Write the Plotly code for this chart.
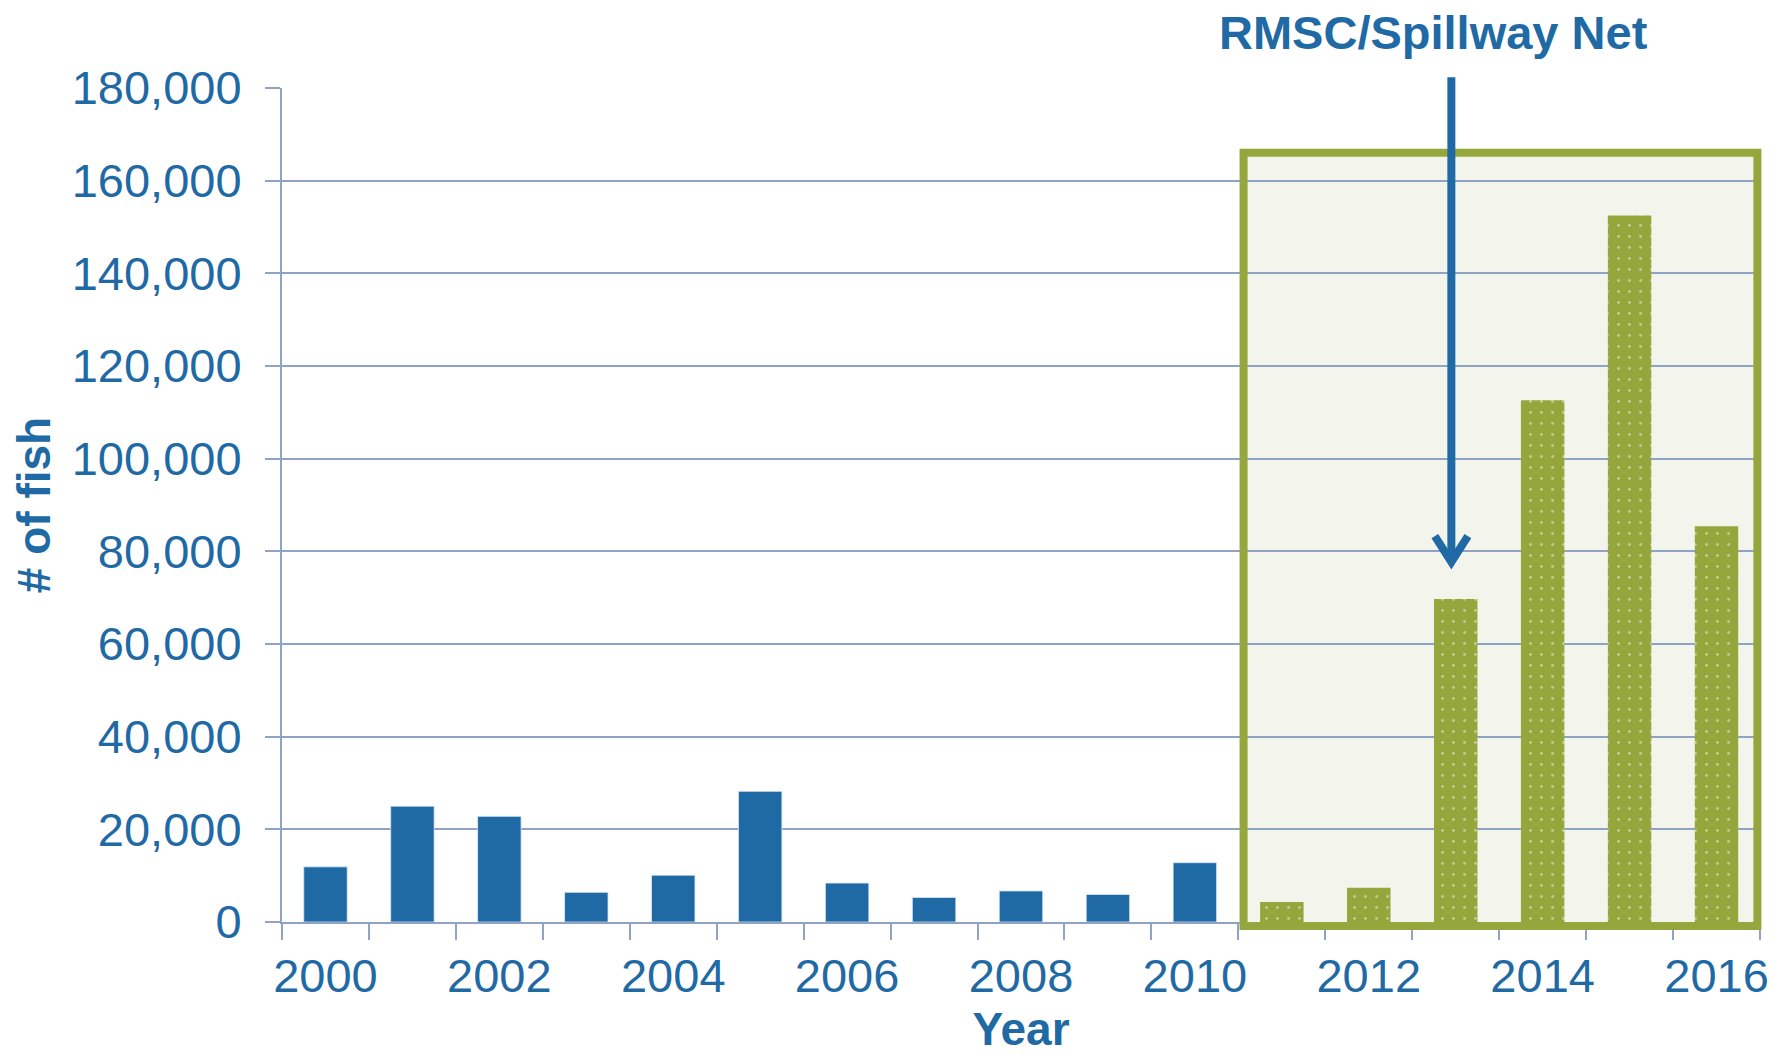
import plotly.graph_objects as go

# Fish counts by year (pre-RMSC and RMSC/Spillway Net)
years_before = [2000, 2001, 2002, 2003, 2004, 2005, 2006, 2007, 2008, 2009, 2010]
fish_before = [11900, 25000, 22800, 6400, 10100, 28200, 8400, 5300, 6700, 5950, 12800]
years_net = [2011, 2012, 2013, 2014, 2015, 2016]
fish_net = [4300, 7400, 69700, 112600, 152500, 85400]
year_ticks = [2000, 2002, 2004, 2006, 2008, 2010, 2012, 2014, 2016]

BLUE = "#1F6AA5"
OLIVE = "#95A63D"
GRID = "#8FA4C4"
FONT = "Liberation Sans, Arial, sans-serif"

x_range = [1999.5, 2016.5]
y_range = [0, 180000]


def px(x):  # data x -> paper x
    return (x - x_range[0]) / (x_range[1] - x_range[0])


def py(y):  # data y -> paper y
    return (y - y_range[0]) / (y_range[1] - y_range[0])


fig = go.Figure()
fig.add_trace(go.Bar(
    x=years_before, y=fish_before, width=0.5,
    marker=dict(color=BLUE, line=dict(color="rgba(220,232,245,0.8)", width=1)),
    showlegend=False,
))
fig.add_trace(go.Bar(
    x=years_net, y=fish_net, width=0.5,
    marker=dict(
        color=OLIVE, line=dict(width=0),
        pattern=dict(shape=".", fgcolor="#F4F6E4", bgcolor=OLIVE, size=11, solidity=0.05),
    ),
    showlegend=False,
))

# box around the RMSC/Spillway Net years
box_x0, box_x1, box_top = 2010.56, 2016.47, 166000
fig.add_shape(type="rect", xref="x", yref="y", layer="below",
              x0=box_x0, x1=x_range[1], y0=0, y1=box_top,
              fillcolor="#F3F4EC", line=dict(width=0))
fig.add_shape(type="rect", xref="paper", yref="paper", layer="above",
              x0=px(box_x0), x1=px(box_x1), y0=py(-850), y1=py(box_top),
              fillcolor="rgba(0,0,0,0)", line=dict(color=OLIVE, width=8))

# arrow pointing at 2013
arrow_x, tip_y, wing_y, wing_dx = 2012.95, 77700, 83300, 0.19
fig.add_shape(type="line", xref="x", yref="paper",
              x0=arrow_x, x1=arrow_x, y0=py(tip_y), y1=1.013,
              line=dict(color=BLUE, width=8))
fig.add_shape(type="path", xref="x", yref="y",
              path=f"M {arrow_x - wing_dx},{wing_y} L {arrow_x},{tip_y} L {arrow_x + wing_dx},{wing_y}",
              line=dict(color=BLUE, width=8))

fig.add_annotation(text="<b>RMSC/Spillway Net</b>", xref="x", yref="paper",
                   x=2012.75, y=1.066, yanchor="middle", showarrow=False,
                   font=dict(family=FONT, size=47, color=BLUE))

fig.update_layout(
    width=1776, height=1047,
    margin=dict(l=274, r=24, t=80, b=133),
    plot_bgcolor="white", paper_bgcolor="white",
    barmode="overlay",
    font=dict(family=FONT, color=BLUE, size=47),
)
fig.update_xaxes(
    range=x_range, tickvals=year_ticks, ticktext=[str(y) for y in year_ticks],
    ticks="outside", ticklen=0, tickcolor="rgba(0,0,0,0)", ticklabelstandoff=12,
    minor=dict(ticks="outside", tick0=1999.5, dtick=1, ticklen=16, tickwidth=2, tickcolor=GRID, showgrid=False),
    showline=True, linecolor=GRID, linewidth=2, showgrid=False, zeroline=False,
    tickfont=dict(size=47, color=BLUE), automargin=False,
    title=dict(text="<b>Year</b>", font=dict(size=46, color=BLUE), standoff=26),
)
fig.update_yaxes(
    range=y_range, dtick=20000, tickformat=",d",
    ticks="outside", ticklen=15, tickwidth=2, tickcolor=GRID, ticklabelstandoff=14,
    showline=True, linecolor=GRID, linewidth=2,
    showgrid=True, gridcolor=GRID, gridwidth=1.5, zeroline=False,
    tickfont=dict(size=47, color=BLUE), automargin=False,
    title=dict(text="<b># of fish</b>", font=dict(size=46, color=BLUE), standoff=9),
)

fig.write_html("out.html")
